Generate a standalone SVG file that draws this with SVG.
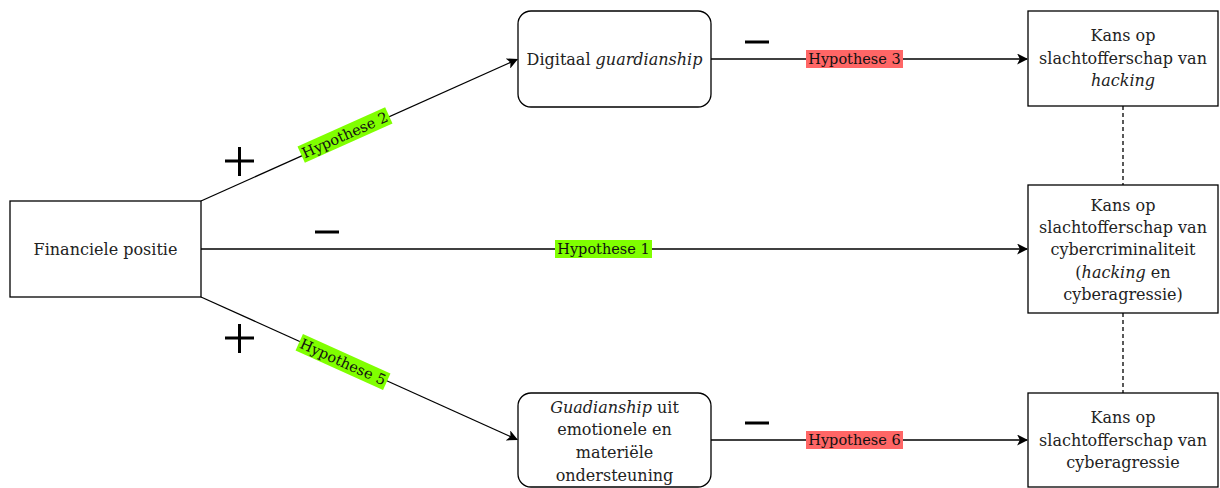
<svg xmlns="http://www.w3.org/2000/svg" width="1220" height="488" viewBox="0 0 1220 488">
<defs>
<marker id="arr" viewBox="0 0 10 10" refX="9" refY="5" markerWidth="11" markerHeight="11" markerUnits="userSpaceOnUse" orient="auto">
<path d="M0,0 L10,5 L0,10 L2.5,5 Z" fill="#000"/>
</marker>
<style>
.box{fill:#fff;stroke:#000;stroke-width:1.3}
.t{font-family:"DejaVu Serif","Liberation Serif",serif;font-size:16px;fill:#222;text-anchor:middle}
.lbl{font-family:"DejaVu Serif","Liberation Serif",serif;font-size:14.5px;fill:#111;text-anchor:middle;dominant-baseline:central}
.ln{stroke:#000;stroke-width:1.3;fill:none}
.sym{stroke:#000;stroke-width:3;fill:none}
.g{fill:#80ff00}
.r{fill:#ff6666}
</style>
</defs>
<rect width="1220" height="488" fill="#fff"/>
<g id="connectors">
<line class="ln" x1="201" y1="201" x2="517" y2="59.5" marker-end="url(#arr)"/>
<line class="ln" x1="201" y1="297" x2="517" y2="439.5" marker-end="url(#arr)"/>
<line class="ln" x1="201" y1="249" x2="1027" y2="249" marker-end="url(#arr)"/>
<line class="ln" x1="711" y1="59" x2="1027" y2="59" marker-end="url(#arr)"/>
<line class="ln" x1="711" y1="440" x2="1027" y2="440" marker-end="url(#arr)"/>
<line class="ln" x1="1123" y1="106" x2="1123" y2="185" stroke-dasharray="4,3"/>
<line class="ln" x1="1123" y1="313" x2="1123" y2="393" stroke-dasharray="4,3"/>
<g transform="translate(345,135) rotate(-24.1)">
<rect class="g" x="-48" y="-9" width="96" height="18"/>
<text class="lbl" x="0" y="0">Hypothese 2</text>
</g>
<g transform="translate(343,362) rotate(24.3)">
<rect class="g" x="-48" y="-9" width="96" height="18"/>
<text class="lbl" x="0" y="0">Hypothese 5</text>
</g>
<rect class="g" x="555" y="240" width="97" height="18"/>
<text class="lbl" x="603.5" y="249">Hypothese 1</text>
<rect class="r" x="806" y="50" width="97" height="18"/>
<text class="lbl" x="854.5" y="59">Hypothese 3</text>
<rect class="r" x="806" y="431" width="97" height="18"/>
<text class="lbl" x="854.5" y="440">Hypothese 6</text>
<path class="sym" d="M225,161 H254 M239.5,147 V176"/>
<path class="sym" d="M225,338 H254 M239.5,324 V353"/>
<path class="sym" d="M315,232 H339"/>
<path class="sym" d="M745,42 H769"/>
<path class="sym" d="M745,423 H769"/>
</g>
<g id="financiele">
<rect class="box" x="10" y="201" width="191" height="96"/>
<text class="t" x="105.5" y="255">Financiele positie</text>
</g>
<g id="digitaal">
<rect class="box" x="518" y="11" width="193" height="96" rx="13"/>
<text class="t" x="614.5" y="65">Digitaal <tspan font-style="italic">guardianship</tspan></text>
</g>
<g id="guadianship">
<rect class="box" x="518" y="393" width="193" height="94" rx="13"/>
<text class="t" x="614.5" y="413"><tspan font-style="italic">Guadianship</tspan> uit</text>
<text class="t" x="614.5" y="435">emotionele en</text>
<text class="t" x="614.5" y="458">materiële</text>
<text class="t" x="614.5" y="481">ondersteuning</text>
</g>
<g id="hacking">
<rect class="box" x="1028" y="11" width="190" height="95"/>
<text class="t" x="1123" y="41">Kans op</text>
<text class="t" x="1123" y="64">slachtofferschap van</text>
<text class="t" x="1123" y="86" font-style="italic">hacking</text>
</g>
<g id="cybercriminaliteit">
<rect class="box" x="1028" y="185" width="190" height="128"/>
<text class="t" x="1123" y="211">Kans op</text>
<text class="t" x="1123" y="233">slachtofferschap van</text>
<text class="t" x="1123" y="255">cybercriminaliteit</text>
<text class="t" x="1123" y="278">(<tspan font-style="italic">hacking</tspan> en</text>
<text class="t" x="1123" y="300">cyberagressie)</text>
</g>
<g id="cyberagressie">
<rect class="box" x="1028" y="393" width="190" height="94"/>
<text class="t" x="1123" y="423">Kans op</text>
<text class="t" x="1123" y="446">slachtofferschap van</text>
<text class="t" x="1123" y="468">cyberagressie</text>
</g>
</svg>
